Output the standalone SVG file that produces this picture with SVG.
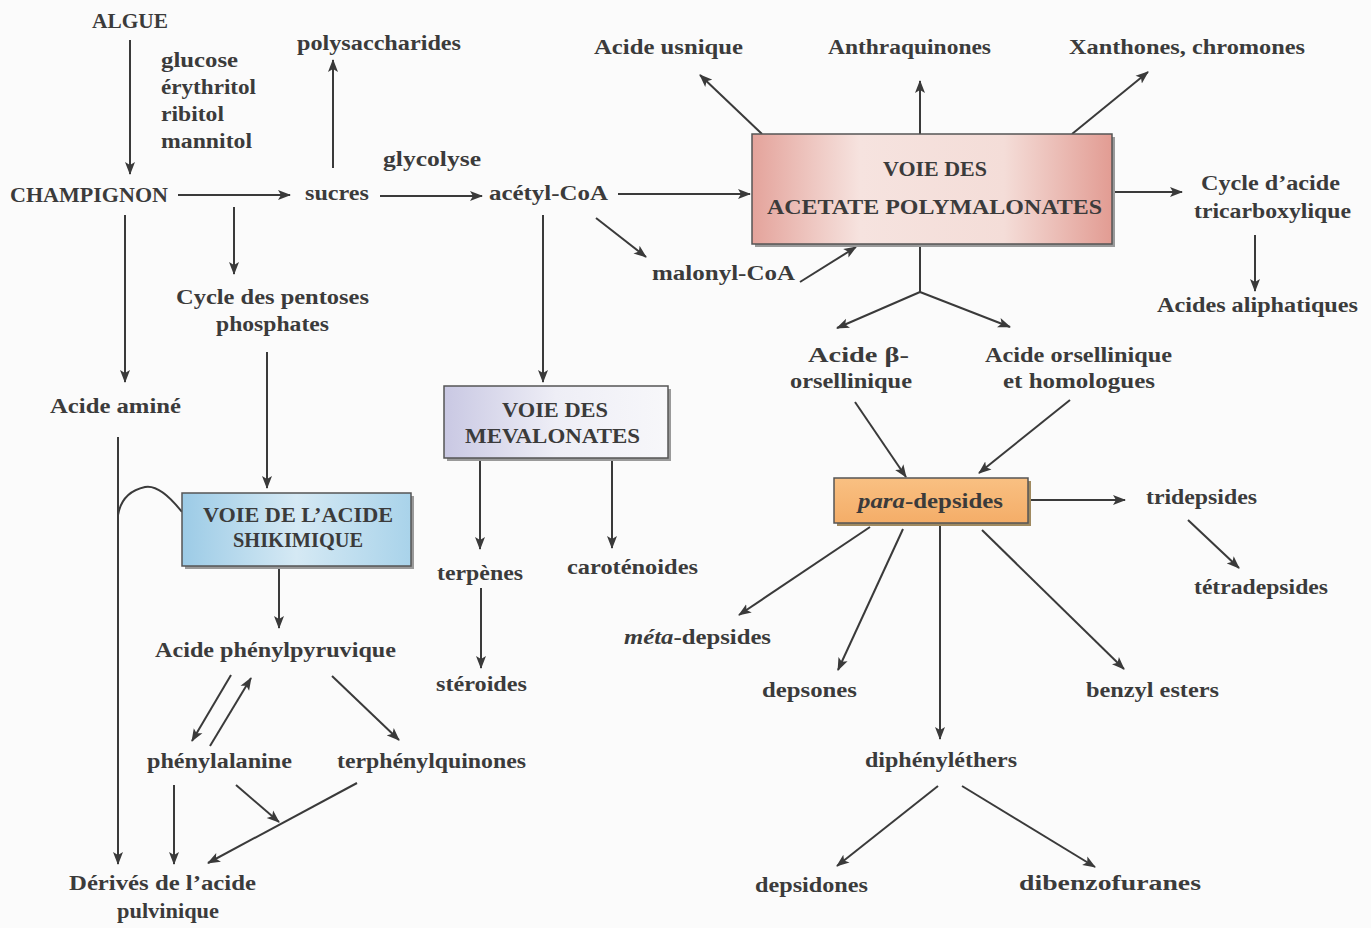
<svg xmlns="http://www.w3.org/2000/svg" width="1371" height="928" viewBox="0 0 1371 928">
<defs>
<style>
text{font-family:"Liberation Serif","Times New Roman",serif;font-size:20px;font-weight:bold;fill:#3b3b3b}
.it{font-style:italic}
.c line,.c path{stroke:#3a3a3a;stroke-width:2;fill:none}
.a{marker-end:url(#ah)}
.box{stroke:#555;stroke-width:1.5}
</style>
<marker id="ah" markerUnits="userSpaceOnUse" markerWidth="14" markerHeight="12" refX="12" refY="5" orient="auto" viewBox="0 0 14 10">
<path d="M0,0 L13,5 L0,10 L3,5 z" fill="#3a3a3a"/>
</marker>
<linearGradient id="gPink" x1="0" y1="0" x2="1" y2="0">
<stop offset="0" stop-color="#e4a39b"/><stop offset="0.3" stop-color="#f6e3df"/><stop offset="0.7" stop-color="#f4ddd8"/><stop offset="1" stop-color="#e29c93"/>
</linearGradient>
<linearGradient id="gMev" x1="0" y1="0" x2="1" y2="0">
<stop offset="0" stop-color="#c9c8e3"/><stop offset="0.5" stop-color="#eeeef6"/><stop offset="1" stop-color="#f7f7fa"/>
</linearGradient>
<linearGradient id="gShik" x1="0" y1="0" x2="1" y2="0">
<stop offset="0" stop-color="#9ccbe6"/><stop offset="0.5" stop-color="#d5e9f4"/><stop offset="1" stop-color="#a9d3ea"/>
</linearGradient>
<linearGradient id="gPara" x1="0" y1="0" x2="0" y2="1">
<stop offset="0" stop-color="#f9c082"/><stop offset="1" stop-color="#f4ad68"/>
</linearGradient>
</defs>
<rect width="1371" height="928" fill="#fbfbfb"/>

<g class="c" id="connectors">
<line class="a" x1="130" y1="40" x2="130" y2="174"/>
<line class="a" x1="178" y1="195" x2="290" y2="195"/>
<line class="a" x1="333" y1="168" x2="333" y2="60"/>
<line class="a" x1="380" y1="196" x2="482" y2="196"/>
<line class="a" x1="618" y1="194" x2="750" y2="194"/>
<line class="a" x1="596" y1="218" x2="646" y2="257"/>
<line class="a" x1="800" y1="282" x2="856" y2="247"/>
<line class="a" x1="762" y1="134" x2="700" y2="75"/>
<line class="a" x1="920" y1="134" x2="920" y2="81"/>
<line class="a" x1="1072" y1="134" x2="1148" y2="72"/>
<line class="a" x1="1112" y1="192" x2="1182" y2="192"/>
<line class="a" x1="1255" y1="235" x2="1255" y2="291"/>
<line x1="920" y1="244" x2="920" y2="292"/>
<line class="a" x1="920" y1="292" x2="837" y2="328"/>
<line class="a" x1="920" y1="292" x2="1010" y2="327"/>
<line class="a" x1="855" y1="402" x2="906" y2="477"/>
<line class="a" x1="1070" y1="400" x2="979" y2="473"/>
<line class="a" x1="1028" y1="500" x2="1125" y2="500"/>
<line class="a" x1="1188" y1="520" x2="1239" y2="568"/>
<line class="a" x1="870" y1="527" x2="739" y2="615"/>
<line class="a" x1="903" y1="529" x2="838" y2="670"/>
<line class="a" x1="940" y1="523" x2="940" y2="739"/>
<line class="a" x1="982" y1="530" x2="1124" y2="669"/>
<line class="a" x1="938" y1="786" x2="837" y2="866"/>
<line class="a" x1="962" y1="786" x2="1095" y2="867"/>
<line class="a" x1="234" y1="207" x2="234" y2="274"/>
<line class="a" x1="125" y1="215" x2="125" y2="382"/>
<line class="a" x1="267" y1="352" x2="267" y2="488"/>
<line class="a" x1="543" y1="215" x2="543" y2="382"/>
<line class="a" x1="118" y1="437" x2="118" y2="864"/>
<path d="M118,515 Q122,492 145,487 Q160,484 182,512"/>
<line class="a" x1="279" y1="566" x2="279" y2="628"/>
<line class="a" x1="480" y1="458" x2="480" y2="549"/>
<line class="a" x1="612" y1="458" x2="612" y2="548"/>
<line class="a" x1="481" y1="588" x2="481" y2="668"/>
<line class="a" x1="231" y1="675" x2="192" y2="741"/>
<line class="a" x1="210" y1="746" x2="251" y2="678"/>
<line class="a" x1="332" y1="676" x2="399" y2="740"/>
<line class="a" x1="174" y1="785" x2="174" y2="864"/>
<line class="a" x1="236" y1="785" x2="279" y2="822"/>
<line class="a" x1="357" y1="783" x2="208" y2="863"/>
</g>

<g id="algue"><text x="92" y="28" textLength="76" lengthAdjust="spacingAndGlyphs">ALGUE</text></g>
<g id="sugars">
<text x="161" y="67" textLength="77" lengthAdjust="spacingAndGlyphs">glucose</text>
<text x="161" y="94" textLength="95" lengthAdjust="spacingAndGlyphs">érythritol</text>
<text x="161" y="121" textLength="63" lengthAdjust="spacingAndGlyphs">ribitol</text>
<text x="161" y="148" textLength="91" lengthAdjust="spacingAndGlyphs">mannitol</text>
</g>
<g id="polysaccharides"><text x="297" y="50" textLength="164" lengthAdjust="spacingAndGlyphs">polysaccharides</text></g>
<g id="champignon"><text x="10" y="202" textLength="158" lengthAdjust="spacingAndGlyphs">CHAMPIGNON</text></g>
<g id="sucres"><text x="305" y="200" textLength="64" lengthAdjust="spacingAndGlyphs">sucres</text></g>
<g id="glycolyse"><text x="383" y="166" textLength="98" lengthAdjust="spacingAndGlyphs">glycolyse</text></g>
<g id="acetylcoa"><text x="489" y="200" textLength="119" lengthAdjust="spacingAndGlyphs">acétyl-CoA</text></g>
<g id="usnique"><text x="594" y="54" textLength="149" lengthAdjust="spacingAndGlyphs">Acide usnique</text></g>
<g id="anthraquinones"><text x="828" y="54" textLength="163" lengthAdjust="spacingAndGlyphs">Anthraquinones</text></g>
<g id="xanthones"><text x="1069" y="54" textLength="236" lengthAdjust="spacingAndGlyphs">Xanthones, chromones</text></g>

<g id="acetate">
<rect x="755" y="137" width="360" height="110" fill="#9a9a9a"/>
<rect class="box" x="752" y="134" width="360" height="110" fill="url(#gPink)"/>
<text x="883" y="176" textLength="104" lengthAdjust="spacingAndGlyphs">VOIE DES</text>
<text x="767" y="214" textLength="335" lengthAdjust="spacingAndGlyphs">ACETATE POLYMALONATES</text>
</g>
<g id="tca">
<text x="1201" y="190" textLength="139" lengthAdjust="spacingAndGlyphs">Cycle d’acide</text>
<text x="1194" y="218" textLength="157" lengthAdjust="spacingAndGlyphs">tricarboxylique</text>
</g>
<g id="aliphatiques"><text x="1157" y="312" textLength="201" lengthAdjust="spacingAndGlyphs">Acides aliphatiques</text></g>
<g id="malonylcoa"><text x="652" y="280" textLength="143" lengthAdjust="spacingAndGlyphs">malonyl-CoA</text></g>
<g id="pentoses">
<text x="176" y="304" textLength="193" lengthAdjust="spacingAndGlyphs">Cycle des pentoses</text>
<text x="216" y="331" textLength="113" lengthAdjust="spacingAndGlyphs">phosphates</text>
</g>
<g id="amine"><text x="50" y="413" textLength="131" lengthAdjust="spacingAndGlyphs">Acide aminé</text></g>
<g id="betaorsellinique">
<text x="808" y="362" textLength="101" lengthAdjust="spacingAndGlyphs">Acide β-</text>
<text x="790" y="388" textLength="122" lengthAdjust="spacingAndGlyphs">orsellinique</text>
</g>
<g id="orsellinique">
<text x="985" y="362" textLength="187" lengthAdjust="spacingAndGlyphs">Acide orsellinique</text>
<text x="1003" y="388" textLength="152" lengthAdjust="spacingAndGlyphs">et homologues</text>
</g>

<g id="mevalonates">
<rect x="447" y="389" width="224" height="72" fill="#9a9a9a"/>
<rect class="box" x="444" y="386" width="224" height="72" fill="url(#gMev)"/>
<text x="502" y="417" textLength="106" lengthAdjust="spacingAndGlyphs">VOIE DES</text>
<text x="465" y="443" textLength="175" lengthAdjust="spacingAndGlyphs">MEVALONATES</text>
</g>
<g id="shikimique">
<rect x="185" y="496" width="229" height="73" fill="#9a9a9a"/>
<rect class="box" x="182" y="493" width="229" height="73" fill="url(#gShik)"/>
<text x="203" y="522" textLength="190" lengthAdjust="spacingAndGlyphs">VOIE DE L’ACIDE</text>
<text x="233" y="547" textLength="130" lengthAdjust="spacingAndGlyphs">SHIKIMIQUE</text>
</g>
<g id="paradepsides">
<rect x="837" y="481" width="194" height="45" fill="#a08a60"/>
<rect class="box" x="834" y="478" width="194" height="45" fill="url(#gPara)"/>
<text x="858" y="508" textLength="145" lengthAdjust="spacingAndGlyphs"><tspan class="it">para</tspan>-depsides</text>
</g>
<g id="tridepsides"><text x="1146" y="504" textLength="111" lengthAdjust="spacingAndGlyphs">tridepsides</text></g>
<g id="tetradepsides"><text x="1194" y="594" textLength="134" lengthAdjust="spacingAndGlyphs">tétradepsides</text></g>
<g id="terpenes"><text x="437" y="580" textLength="86" lengthAdjust="spacingAndGlyphs">terpènes</text></g>
<g id="carotenoides"><text x="567" y="574" textLength="131" lengthAdjust="spacingAndGlyphs">caroténoides</text></g>
<g id="steroides"><text x="436" y="691" textLength="91" lengthAdjust="spacingAndGlyphs">stéroides</text></g>
<g id="phenylpyruvique"><text x="155" y="657" textLength="241" lengthAdjust="spacingAndGlyphs">Acide phénylpyruvique</text></g>
<g id="phenylalanine"><text x="147" y="768" textLength="145" lengthAdjust="spacingAndGlyphs">phénylalanine</text></g>
<g id="terphenylquinones"><text x="337" y="768" textLength="189" lengthAdjust="spacingAndGlyphs">terphénylquinones</text></g>
<g id="pulvinique">
<text x="69" y="890" textLength="187" lengthAdjust="spacingAndGlyphs">Dérivés de l’acide</text>
<text x="117" y="918" textLength="102" lengthAdjust="spacingAndGlyphs">pulvinique</text>
</g>
<g id="metadepsides"><text x="624" y="644" textLength="147" lengthAdjust="spacingAndGlyphs"><tspan class="it">méta</tspan>-depsides</text></g>
<g id="depsones"><text x="762" y="697" textLength="95" lengthAdjust="spacingAndGlyphs">depsones</text></g>
<g id="benzylesters"><text x="1086" y="697" textLength="133" lengthAdjust="spacingAndGlyphs">benzyl esters</text></g>
<g id="diphenylethers"><text x="865" y="767" textLength="152" lengthAdjust="spacingAndGlyphs">diphényléthers</text></g>
<g id="depsidones"><text x="755" y="892" textLength="113" lengthAdjust="spacingAndGlyphs">depsidones</text></g>
<g id="dibenzofuranes"><text x="1019" y="890" textLength="182" lengthAdjust="spacingAndGlyphs">dibenzofuranes</text></g>
</svg>
